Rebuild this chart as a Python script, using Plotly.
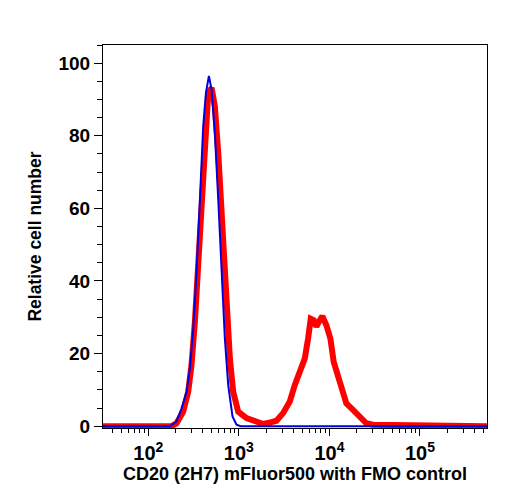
import plotly.graph_objects as go

# FMO control (blue)
fmo_x = [30, 173, 205, 233, 265, 288, 314, 341, 372, 404, 433, 467, 500, 543, 592, 644, 701, 763, 851, 942, 1050, 550000]
fmo_y = [0, 0, 1.3, 4.9, 9.5, 15.9, 26.9, 42.4, 62.5, 82.6, 91.8, 96.5, 92.7, 80.8, 62.5, 42.4, 24.1, 11.3, 2.7, 0.4, 0, 0]

# CD20 stained (red)
cd20_x = [30, 181, 205, 243, 276, 300, 327, 356, 387, 422, 459, 500, 543, 592, 633, 672, 731, 796, 866, 984,
          1216, 1567, 1855, 2290, 2602, 3080, 3650, 4140, 4710, 5340, 5810, 6220, 6710, 7180, 7820, 8360,
          9260, 10250, 11150, 12450, 14130, 15380, 18220, 21600, 25570, 30290, 550000]
cd20_y = [0, 0, 0.8, 4.0, 9.5, 16.8, 28.7, 44.2, 64.4, 81.7, 91.8, 93.2, 88.1, 75.3, 63.4, 49.7, 31.4, 18.6, 9.5, 4.0,
          2.2, 1.3, 0.6, 1.1, 1.5, 3.6, 6.8, 11.3, 15.4, 18.6, 24.1, 29.6, 29.2, 27.4, 29.2, 30.3,
          27.8, 24.1, 17.7, 14.1, 9.5, 6.3, 4.5, 2.7, 0.8, 0.4, 0]

x_tickvals = [100, 1000, 10000, 100000]
x_ticktext = ["10<sup>2</sup>", "10<sup>3</sup>", "10<sup>4</sup>", "10<sup>5</sup>"]
x_minor = [m * 10 ** e for e in range(1, 6) for m in range(2, 10)]

fig = go.Figure()
fig.add_trace(go.Scatter(x=cd20_x, y=cd20_y, mode="lines",
                         line=dict(color="#ff0000", width=6), showlegend=False))
fig.add_trace(go.Scatter(x=fmo_x, y=fmo_y, mode="lines",
                         line=dict(color="#0000dd", width=2), showlegend=False))

font_family = "Liberation Sans, Arial, sans-serif"
fig.update_layout(
    width=508, height=500,
    margin=dict(l=103, r=21, t=45, b=72),
    plot_bgcolor="white", paper_bgcolor="white",
    font=dict(family=font_family, color="black", size=17),
)
fig.update_xaxes(
    type="log", range=[1.5, 5.74],
    tickvals=x_tickvals, ticktext=x_ticktext,
    ticks="outside", ticklen=7, tickwidth=1, tickcolor="black",
    minor=dict(tickvals=x_minor, ticks="outside", ticklen=4, tickcolor="black"),
    showline=True, linecolor="black", linewidth=1, mirror=True,
    showgrid=False, zeroline=False,
    tickfont=dict(size=20, family=font_family, weight="bold"),
    title=dict(text="CD20 (2H7) mFluor500 with FMO control",
               font=dict(size=18, family=font_family, weight="bold"), standoff=4),
)
fig.update_yaxes(
    range=[-0.5, 105],
    tickvals=[0, 20, 40, 60, 80, 100],
    ticks="outside", ticklen=8, tickwidth=1, tickcolor="black",
    minor=dict(dtick=5, tick0=0, ticks="outside", ticklen=5, tickcolor="black"),
    showline=True, linecolor="black", linewidth=1, mirror=True,
    showgrid=False, zeroline=False,
    tickfont=dict(size=19, family=font_family, weight="bold"),
    title=dict(text="Relative cell number",
               font=dict(size=17.5, family=font_family, weight="bold"), standoff=12),
)

fig.write_html("out.html")
